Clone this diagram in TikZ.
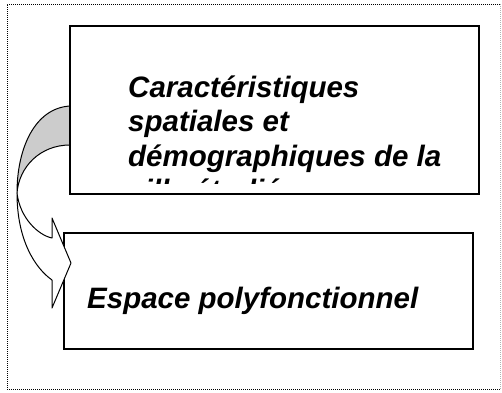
\documentclass[tikz,border=0pt]{standalone}
\usepackage{fontspec}
\setmainfont{Liberation Sans}
\usetikzlibrary{positioning}

\begin{document}
\begin{tikzpicture}[x=1pt, y=-1pt,
			cadre/.style={line width=0.8pt, dash pattern=on 1pt off 1pt},
			boite/.style={draw, line width=1.5pt, fill=white, inner sep=0pt},
			fleche/.style={draw, line width=1pt, line join=round},
			texte/.style={inner sep=0pt, align=left, font=\fontsize{29.5}{34.5}\selectfont\bfseries\itshape}]
			\useasboundingbox (0,0) rectangle (502,392);
			% dotted frame
			\draw[cadre] (500,4) -- (7,4) -- (7,389) -- (500,389);
			\draw[cadre, black!30] (500,4) -- (500,389);
			% curved arrow, back part
			\coordinate (hautext) at (70,106);
			\coordinate (hautint) at (70,145);
			\coordinate (croise) at (17,193);
			\fill[black!20] (hautext) .. controls (35,108) and (17,148) .. (croise)
				.. controls (19,167) and (40,145) .. (hautint) -- cycle;
			\draw[fleche] (hautext) .. controls (35,108) and (17,148) .. (croise)
				.. controls (19,167) and (40,145) .. (hautint);
			% boxes
			\node[boite, minimum width=409pt, minimum height=168pt] (carac) at (274.5,110) {};
			\node[boite, minimum width=409pt, minimum height=116pt] (poly) at (268.5,291) {};
			\begin{scope}
				\clip (carac.north west) rectangle (carac.east |- 0,183);
				\node[texte, anchor=base west] (caractxt) at (128,200.5)
					{Caractéristiques\\spatiales et\\démographiques de la\\ville étudiée};
			\end{scope}
			\node[texte, anchor=base west] (polytxt) at (87,308) {Espace polyfonctionnel};
			% curved arrow, front part
			\coordinate (basext) at (52,280);
			\coordinate (basint) at (52,238);
			\coordinate (pointe) at (71,263);
			\filldraw[fleche, fill=white] (croise) .. controls (17,240) and (35,268) .. (basext)
				-- (52,308) -- (pointe) -- (52,218) -- (basint)
				.. controls (38,235) and (20,218) .. (croise) -- cycle;
		\end{tikzpicture}
\end{document}
